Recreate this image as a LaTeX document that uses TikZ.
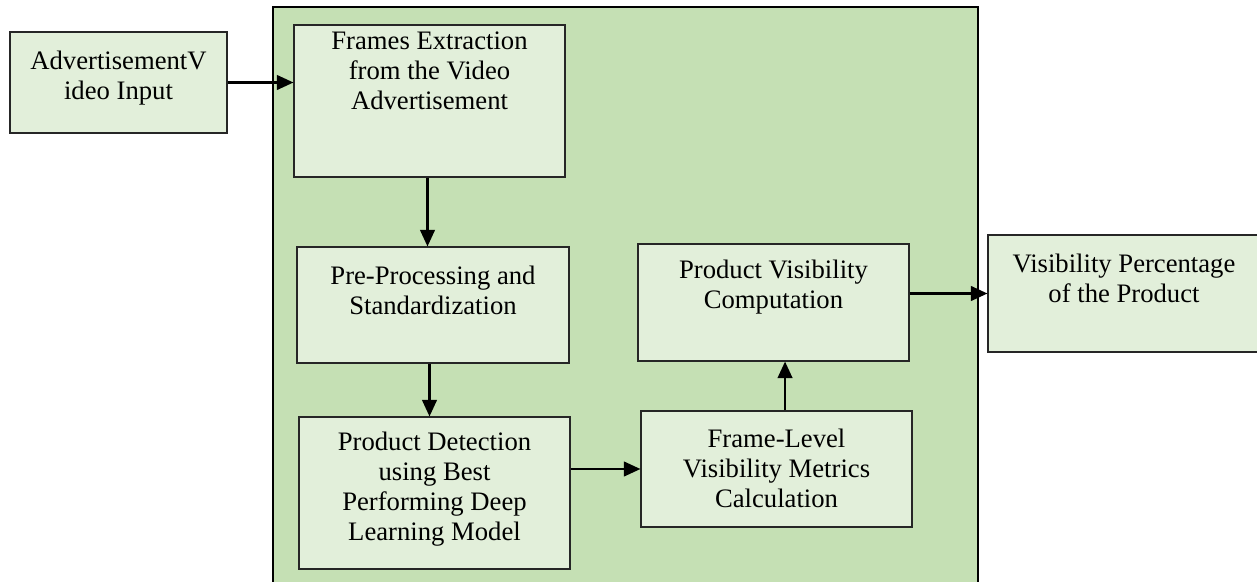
\documentclass[tikz,border=0pt]{standalone}
\usepackage{fontspec}
\setmainfont{Liberation Serif}
\usetikzlibrary{arrows.meta,calc,fit}
\definecolor{outerg}{HTML}{C5E0B4}
\definecolor{innerg}{HTML}{E2EFDA}
\begin{document}
\begin{tikzpicture}[x=0.75pt,y=-0.75pt,
  container/.style={draw=black, fill=outerg, line width=1.1pt, inner sep=0pt},
  box/.style={draw=black!85, fill=innerg, line width=0.8pt, inner sep=0pt},
  txt/.style={align=center, inner sep=0pt, font=\fontsize{20}{22.5}\selectfont},
  arr/.style={line width=1.8pt, -{Triangle[length=12.5pt,width=11pt]}}]
\useasboundingbox (0,0) rectangle (1257,582);
\begin{scope}
\clip (0,0) rectangle (1257,582);
\node[container, fit={(273,7) (978,600)}] (cont) {};
\node[box, fit={(10,32) (227,133)}] (in) {};
\node[box, fit={(294,25) (565,177)}] (fe) {};
\node[box, fit={(297,247) (569,363)}] (pre) {};
\node[box, fit={(299,417) (570,569)}] (det) {};
\node[box, fit={(638,244) (909,361)}] (pv) {};
\node[box, fit={(641,411) (912,527)}] (fl) {};
\node[box, fit={(988,235) (1262,352)}] (vis) {};
\end{scope}
\node[txt] (intx) at (118.5,78) {AdvertisementV\\ideo Input};
\node[txt] (fetx) at (429.5,71) {Frames Extraction\\from the Video\\Advertisement};
\node[txt] (pretx) at (433,290) {Pre-Processing and\\Standardization};
\node[txt] (dettx) at (434.5,489) {Product Detection\\using Best\\Performing Deep\\Learning Model};
\node[txt] (pvtx) at (773.5,287) {Product Visibility\\Computation};
\node[txt] (fltx) at (776.5,468) {Frame-Level\\Visibility Metrics\\Calculation};
\node[txt] (vistx) at (1124,278) {Visibility Percentage\\of the Product};
\draw[arr] (in.east) -- (in.east -| fe.west);
\draw[arr] ([xshift=-1.5pt]fe.south) -- ([xshift=-1.5pt]fe.south |- pre.north);
\draw[arr] (pre.south -| fe.south) -- (det.north -| fe.south);
\draw[arr] (det.east |- fl.west) -- (fl.west);
\draw[arr] ([xshift=6.4pt]fl.north) -- ([xshift=6.4pt]fl.north |- pv.south);
\draw[arr] (pv.east |- vis.west) -- (vis.west);
\end{tikzpicture}
\end{document}
